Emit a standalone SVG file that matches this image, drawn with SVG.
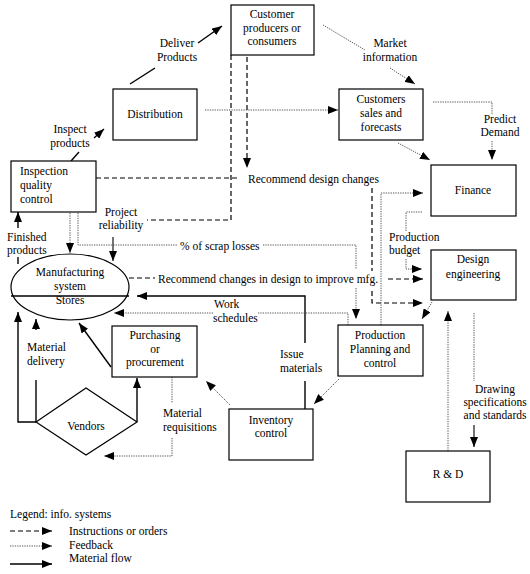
<svg xmlns="http://www.w3.org/2000/svg" width="530" height="574" viewBox="0 0 530 574" font-family="Liberation Serif, Tinos, DejaVu Serif, serif">
<defs>
<marker id="ah" markerUnits="userSpaceOnUse" markerWidth="10" markerHeight="8" refX="10" refY="4" orient="auto">
<path d="M0,0 L10,4 L0,8 z" fill="#000"/>
</marker>
</defs>
<style>
text{font-family:'Liberation Serif','Tinos','DejaVu Serif',serif;font-size:11.5px;fill:#000}
.c{text-anchor:middle}
.box{fill:#fff;stroke:#000;stroke-width:1.2}
.sol{fill:none;stroke:#000;stroke-width:1.4}
.thin{fill:none;stroke:#000;stroke-width:1.1}
.dash{fill:none;stroke:#000;stroke-width:1.2;stroke-dasharray:5,3}
.dot{fill:none;stroke:#444;stroke-width:0.9;stroke-dasharray:1.3,1.1}
.arr{marker-end:url(#ah)}
</style>
<rect width="530" height="574" fill="#fff"/>

<g id="connectors">
<path class="sol" d="M71,161 L79,152"/>
<path class="sol arr" d="M94,138 L104,129"/>
<path class="sol" d="M130,84 L155,68"/>
<path class="sol arr" d="M198,43 L222,26"/>
<path class="sol" d="M18,264 L18,257"/>
<path class="sol arr" d="M18,228 L18,212"/>
<path class="sol" d="M305,409 L305,381"/>
<path class="sol arr" d="M305,343 L305,296 L137,296"/>
<path class="sol arr" d="M111,367 L79,323"/>
<path class="sol arr" d="M137,422 L137,378"/>
<path class="sol" d="M36,422 L36,380"/>
<path class="sol arr" d="M36,330 L36,319"/>
<path class="sol arr" d="M36,422 L18,422 L18,312"/>
<path class="dash arr" d="M247,57 L247,168"/>
<path class="dash" d="M231,55 L231,220 L147,220"/>
<path class="thin arr" d="M113,237 L113,261"/>
<path class="dash" d="M96,178 L239,178"/>
<path class="dash" d="M372,188 L372,271"/>
<path class="dash arr" d="M372,291 L372,303 L423,303"/>
<path class="dash" d="M129,278 L155,278"/>
<path class="dash arr" d="M388,279 L423,279"/>
<path class="dot" d="M323,25 L365,50"/>
<path class="dot arr" d="M390,68 L415,84"/>
<path class="dot arr" d="M205,110 L338,110"/>
<path class="dot" d="M433,102 L492,102 L492,114"/>
<path class="dot arr" d="M492,141 L492,160"/>
<path class="dot arr" d="M398,143 L430,160"/>
<path class="dot arr" d="M70,213 L70,253"/>
<path class="dot" d="M78,213 L78,245 L177,245"/>
<path class="dot" d="M263,245 L356,245 L356,269"/>
<path class="dot arr" d="M356,288 L356,319"/>
<path class="dot" d="M422,212 L406,212 L406,231"/>
<path class="dot arr" d="M406,259 L406,269 L422,269"/>
<path class="dot arr" d="M381,325 L381,193 L423,193"/>
<path class="dot arr" d="M432,302 L422,319"/>
<path class="dot arr" d="M448,451 L448,311"/>
<path class="dot" d="M474,313 L474,381"/>
<path class="thin arr" d="M474,425 L474,447"/>
<path class="dot" d="M348,325 L348,313 L258,313"/>
<path class="dot arr" d="M213,313 L114,313"/>
<path class="dot arr" d="M339,379 L314,404"/>
<path class="dot arr" d="M230,405 L206,381"/>
<path class="dot" d="M172,377 L172,403"/>
<path class="dot arr" d="M172,438 L172,456 L104,456"/>
<text class="c" x="70" y="133">Inspect</text>
<text class="c" x="70" y="147">products</text>
<text class="c" x="177" y="47">Deliver</text>
<text class="c" x="177" y="61">Products</text>
<text class="c" x="390" y="47">Market</text>
<text class="c" x="390" y="61">information</text>
<text class="c" x="500" y="123">Predict</text>
<text class="c" x="500" y="136">Demand</text>
<text x="248" y="183">Recommend design changes</text>
<text class="c" x="121" y="216">Project</text>
<text class="c" x="121" y="229">reliability</text>
<text x="7" y="241">Finished</text>
<text x="7" y="254">products</text>
<text x="180" y="250">% of scrap losses</text>
<text x="158" y="283">Recommend changes in design to improve mfg.</text>
<text x="214" y="308">Work</text>
<text x="213" y="322">schedules</text>
<text x="389" y="241">Production</text>
<text x="389" y="254">budget</text>
<text x="280" y="358">Issue</text>
<text x="280" y="372">materials</text>
<text class="c" x="495" y="393">Drawing</text>
<text class="c" x="495" y="406">specifications</text>
<text class="c" x="495" y="419">and standards</text>
<text x="163" y="417">Material</text>
<text x="163" y="431">requisitions</text>
<text x="27" y="351">Material</text>
<text x="27" y="365">delivery</text>
</g>

<g id="customer">
<rect class="box" x="231" y="5" width="83" height="50"/>
<text class="c" x="272" y="18">Customer</text>
<text class="c" x="272" y="32">producers or</text>
<text class="c" x="272" y="45">consumers</text>
</g>
<g id="distribution">
<rect class="box" x="113" y="89" width="84" height="51"/>
<text class="c" x="155" y="118">Distribution</text>
</g>
<g id="sales">
<rect class="box" x="339" y="89" width="84" height="51"/>
<text class="c" x="381" y="103">Customers</text>
<text class="c" x="381" y="117">sales and</text>
<text class="c" x="381" y="131">forecasts</text>
</g>
<g id="finance">
<rect class="box" x="431" y="165" width="85" height="51"/>
<text class="c" x="473" y="194">Finance</text>
</g>
<g id="design">
<rect class="box" x="431" y="250" width="85" height="50"/>
<text class="c" x="473" y="263">Design</text>
<text class="c" x="473" y="278">engineering</text>
</g>
<g id="inspection">
<rect class="box" x="11" y="161" width="85" height="51"/>
<text x="20" y="175">Inspection</text>
<text x="20" y="189">quality</text>
<text x="20" y="203">control</text>
</g>
<g id="manufacturing">
<ellipse cx="70" cy="287" rx="59" ry="33" fill="#fff" stroke="#000" stroke-width="1.2"/>
<line x1="11" y1="296" x2="129" y2="296" stroke="#000" stroke-width="1.4"/>
<text class="c" x="70" y="276">Manufacturing</text>
<text class="c" x="70" y="290">system</text>
<text class="c" x="70" y="304">Stores</text>
</g>
<g id="purchasing">
<rect class="box" x="112" y="326" width="85" height="51"/>
<text class="c" x="155" y="339">Purchasing</text>
<text class="c" x="155" y="353">or</text>
<text class="c" x="155" y="366">procurement</text>
</g>
<g id="production">
<rect class="box" x="338" y="325" width="85" height="51"/>
<text class="c" x="380" y="339">Production</text>
<text class="c" x="380" y="353">Planning and</text>
<text class="c" x="380" y="367">control</text>
</g>
<g id="inventory">
<rect class="box" x="229" y="409" width="84" height="51"/>
<text class="c" x="271" y="424">Inventory</text>
<text class="c" x="271" y="437">control</text>
</g>
<g id="rd">
<rect class="box" x="406" y="451" width="84" height="51"/>
<text class="c" x="448" y="478">R &amp; D</text>
</g>
<g id="vendors">
<path d="M36,422 L86,388 L137,422 L86,455 z" fill="#fff" stroke="#000" stroke-width="1.2"/>
<text class="c" x="86" y="430">Vendors</text>
</g>

<g id="legend">
<text x="10" y="518">Legend: info. systems</text>
<path class="dash arr" d="M10,531 L52,531"/>
<text x="69" y="535">Instructions or orders</text>
<path class="dot arr" d="M10,546 L52,546"/>
<text x="69" y="549">Feedback</text>
<path class="sol arr" d="M10,564 L52,564"/>
<text x="69" y="562">Material flow</text>
</g>
</svg>
